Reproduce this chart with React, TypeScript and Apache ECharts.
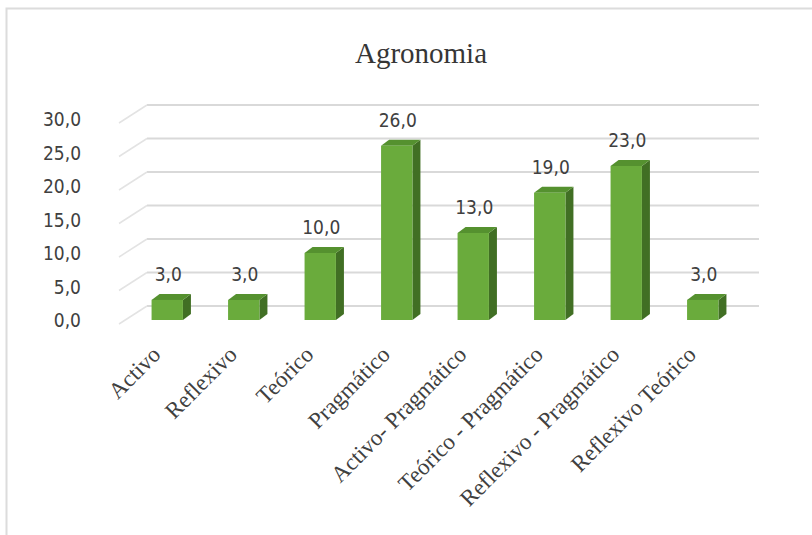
import React, { useEffect, useRef } from "react";
import * as echarts from "echarts";

const categories = [
  "Activo",
  "Reflexivo",
  "Teórico",
  "Pragmático",
  "Activo- Pragmático",
  "Teórico - Pragmático",
  "Reflexivo - Pragmático",
  "Reflexivo Teórico",
];
const values = [3, 3, 10, 26, 13, 19, 23, 3];
const yTicks = [0, 5, 10, 15, 20, 25, 30];
const titleText = "Agronomia";

const fmt = (v: number) => v.toFixed(1).replace(".", ",");

// styling constants (3D look)
const BACK_DX = 18;
const BACK_DY = -14;
const FRONT_DX = -28;
const FRONT_DY = 18;
const BAR_DX = 8;
const BAR_DY = -6;
const GREEN_FRONT = "#6aab3c";
const GREEN_SIDE = "#416f24";
const GREEN_TOP = "#55912f";
const TEXT = "#404040";
const NUM_FONT = "DejaVu Sans Condensed, DejaVu Sans";

export default function App() {
  const ref = useRef<HTMLDivElement>(null);
  useEffect(() => {
    if (!ref.current) return;
    const chart = echarts.init(ref.current, null, { renderer: "svg" });
    const option: any = {
      animation: false,
      backgroundColor: "#ffffff",
      title: {
        text: titleText,
        left: 416,
        top: 33,
        textAlign: "center",
        textStyle: {
          fontFamily: "Liberation Serif",
          fontSize: 29,
          fontWeight: "normal",
          color: "#363636",
        },
      },
      graphic: [
        {
          type: "rect",
          shape: { x: 6.5, y: 8.5, width: 900, height: 600 },
          style: { fill: "none", stroke: "#dcdcdc", lineWidth: 2 },
          silent: true,
        },
      ],
      grid: { left: 129, right: 71, top: 119, bottom: 215, containLabel: false },
      xAxis: {
        type: "category",
        data: categories,
        axisLine: { show: false },
        axisTick: { show: false },
        splitLine: { show: false },
        axisLabel: {
          interval: 0,
          rotate: 45,
          margin: 20,
          padding: [0, 15, 0, 0],
          fontFamily: "Liberation Serif",
          fontSize: 23,
          color: TEXT,
        },
      },
      yAxis: {
        type: "value",
        min: 0,
        max: 30,
        interval: 5,
        axisLine: { show: false },
        axisTick: { show: false },
        splitLine: { show: false },
        axisLabel: {
          margin: 48,
          formatter: (v: number) => fmt(v),
          fontFamily: NUM_FONT,
          fontSize: 19,
          color: TEXT,
        },
      },
      series: [
        {
          type: "custom",
          silent: true,
          z: 1,
          data: yTicks.map((v) => [0, v]),
          renderItem: (params: any, api: any) => {
            const v = api.value(1);
            const band = api.size([1, 0])[0];
            const pl = api.coord([0, v]);
            const pr = api.coord([categories.length - 1, v]);
            const xl = pl[0] - band / 2 + BACK_DX;
            const xr = pr[0] + band / 2 + BACK_DX;
            const y = pl[1] + BACK_DY;
            return {
              type: "group",
              children: [
                {
                  type: "line",
                  shape: { x1: xl, y1: y, x2: xr, y2: y },
                  style: { stroke: "#d9d9d9", lineWidth: 2 },
                },
                {
                  type: "line",
                  shape: { x1: xl + FRONT_DX, y1: y + FRONT_DY, x2: xl, y2: y },
                  style: { stroke: "#e3e3e3", lineWidth: 1.5 },
                },
              ],
            };
          },
        },
        {
          type: "custom",
          z: 2,
          data: values.map((v, i) => [i, v]),
          renderItem: (params: any, api: any) => {
            const i = api.value(0);
            const v = api.value(1);
            const band = api.size([1, 0])[0];
            const c0 = api.coord([i, 0]);
            const c1 = api.coord([i, v]);
            const w = band * 0.41;
            const x = c0[0] - w / 2;
            const y0 = c0[1];
            const y1 = c1[1];
            return {
              type: "group",
              children: [
                {
                  type: "polygon",
                  shape: {
                    points: [
                      [x + w, y1],
                      [x + w + BAR_DX, y1 + BAR_DY],
                      [x + w + BAR_DX, y0 + BAR_DY],
                      [x + w, y0],
                    ],
                  },
                  style: { fill: GREEN_SIDE },
                },
                {
                  type: "polygon",
                  shape: {
                    points: [
                      [x, y1],
                      [x + BAR_DX, y1 + BAR_DY],
                      [x + w + BAR_DX, y1 + BAR_DY],
                      [x + w, y1],
                    ],
                  },
                  style: { fill: GREEN_TOP },
                },
                {
                  type: "rect",
                  shape: { x: x, y: y1, width: w, height: y0 - y1 },
                  style: { fill: GREEN_FRONT },
                },
                {
                  type: "text",
                  x: c0[0] + 1,
                  y: y1 - 26,
                  style: {
                    text: fmt(v),
                    fontFamily: NUM_FONT,
                    fontSize: 19,
                    fill: TEXT,
                    align: "center",
                    verticalAlign: "middle",
                  },
                },
              ],
            };
          },
        },
      ],
    };
    chart.setOption(option);
    return () => chart.dispose();
  }, []);
  return (
    <div
      ref={ref}
      style={{ position: "fixed", left: 0, top: 0, width: 812, height: 535 }}
    />
  );
}
